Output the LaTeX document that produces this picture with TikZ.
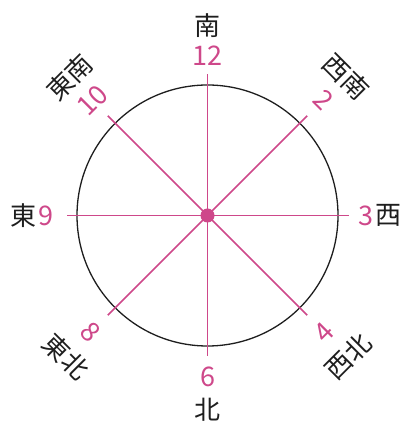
\documentclass[tikz,border=0pt]{standalone}
\usepackage{fontspec}
\setmainfont{Noto Sans CJK JP}
\definecolor{mag}{RGB}{206,72,138}
\definecolor{ink}{RGB}{30,30,30}
\begin{document}
\begin{tikzpicture}[x=1pt,y=1pt,
  num/.style={text=mag,font=\fontsize{27}{27}\selectfont,inner sep=0pt},
  kan/.style={text=ink,font=\fontsize{26}{26}\selectfont,inner sep=0pt},
  spoke/.style={draw=mag,line width=1.7pt},
  rim/.style={draw=ink,line width=1.3pt}]
\useasboundingbox (0,0) rectangle (411,422);
\coordinate (O) at (207.5,206.5);
\draw[rim] (O) circle (130.5);
\foreach \a [count=\i] in {0,45,...,315}
  \coordinate (e\i) at ([shift={(\a:141)}]O);
\foreach \i in {1,...,8}
  \draw[spoke] (O) -- (e\i);
\fill[mag] (O) circle (7);
% cardinal
\node[num] (n12) at ([shift={(90:160)}]O) {12};
\node[kan] (s) at ([shift={(90:190)}]O) {南};
\node[num] (n6) at ([shift={(270:161)}]O) {6};
\node[kan] (nn) at ([shift={(270:194)}]O) {北};
\node[num] (n9) at ([shift={(180:162)}]O) {9};
\node[kan] (e) at ([shift={(180:184)}]O) {東};
\node[num] (n3) at ([shift={(0:158)}]O) {3};
\node[kan] (w) at ([shift={(0:181)}]O) {西};
% diagonals
\node[num,rotate=45] (n10) at ([shift={(135:163)}]O) {10};
\node[kan,rotate=45] (se) at ([shift={(135:195)}]O) {東南};
\node[num,rotate=-45] (n2) at ([shift={(45:164)}]O) {2};
\node[kan,rotate=-45] (sw) at ([shift={(45:196)}]O) {西南};
\node[num,rotate=-45] (n8) at ([shift={(225:165)}]O) {8};
\node[kan,rotate=-45] (ne) at ([shift={(225:200)}]O) {東北};
\node[num,rotate=45] (n4) at ([shift={(315:165)}]O) {4};
\node[kan,rotate=45] (nw) at ([shift={(315:199)}]O) {西北};
\end{tikzpicture}
\end{document}
